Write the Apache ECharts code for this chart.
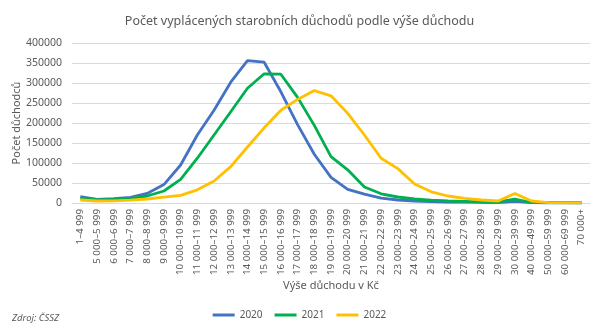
<!DOCTYPE html>
<html><head><meta charset="utf-8">
<script src="https://cdn.jsdelivr.net/npm/echarts@6/dist/echarts.min.js"></script>
<style>html,body{margin:0;padding:0;background:#fff;}#c{width:599px;height:329px;}</style>
</head><body><div id="c"></div>
<script>
const categories = ["1–4 999","5 000–5 999","6 000–6 999","7 000–7 999","8 000–8 999","9 000–9 999","10 000–10 999","11 000–11 999","12 000–12 999","13 000–13 999","14 000–14 999","15 000–15 999","16 000–16 999","17 000–17 999","18 000–18 999","19 000–19 999","20 000–20 999","21 000–21 999","22 000–22 999","23 000–23 999","24 000–24 999","25 000–25 999","26 000–26 999","27 000–27 999","28 000–28 999","29 000–29 999","30 000–39 999","40 000–49 999","50 000–59 999","60 000–69 999","70 000+"];
const s2020 = [16000,9000,11000,14000,24000,46000,95000,170000,232000,302000,356000,352000,278000,196000,122000,64000,34000,22000,12000,7500,5000,3500,2500,2000,1500,1200,4000,800,300,100,50];
const s2021 = [12500,7500,9000,11500,17500,30000,59000,112000,170000,228000,287000,323000,322000,264000,194000,116000,83000,40000,23000,15000,10000,7000,5000,4000,3000,2500,9500,1200,400,150,80];
const s2022 = [7500,5000,5500,7000,10000,14500,19000,33000,55000,91000,140000,188000,232000,259000,281000,268000,224000,170000,112000,86000,47500,28000,17500,11500,7500,5000,24000,5000,1000,300,200];
const yTicks = [0,50000,100000,150000,200000,250000,300000,350000,400000];
const seriesNames = ["2020","2021","2022"];
const colors = ["#4472C4","#00B050","#FFC000"];
const font = "Noto Sans";
const chart = echarts.init(document.getElementById('c'));
chart.setOption({
  animation:false,
  textStyle:{fontFamily:font},
  title:{text:"Počet vyplácených starobních důchodů podle výše důchodu",left:'center',top:10,textStyle:{fontSize:12.5,fontWeight:'normal',color:'#595959',fontFamily:font}},
  grid:{left:72,right:9,top:43,bottom:126},
  legend:{bottom:4,left:'center',icon:'rect',itemWidth:22,itemHeight:3,itemGap:12,textStyle:{fontSize:10,color:'#595959'},data:seriesNames},
  graphic:[{type:'text',left:12,top:313,style:{text:"Zdroj: ČSSZ",fontSize:9.5,fontStyle:'italic',fill:'#595959',fontFamily:font}}],
  xAxis:{type:'category',data:categories,boundaryGap:true,name:"Výše důchodu v Kč",nameLocation:'middle',nameGap:77,nameMoveOverlap:false,nameTextStyle:{fontSize:11,color:'#595959'},
    axisLine:{lineStyle:{color:'#d9d9d9'}},axisTick:{show:false},
    axisLabel:{interval:0,rotate:90,fontSize:9.8,color:'#595959',margin:6}},
  yAxis:{type:'value',min:yTicks[0],max:yTicks[yTicks.length-1],interval:50000,name:"Počet důchodců",nameLocation:'middle',nameGap:50,nameMoveOverlap:false,nameTextStyle:{fontSize:11,color:'#595959'},
    axisLine:{show:false},axisTick:{show:false},splitLine:{lineStyle:{color:'#d9d9d9'}},
    axisLabel:{fontSize:10.5,color:'#595959',margin:10,formatter:v=>String(v)}},
  series:seriesNames.map((n,i)=>({name:n,type:'line',data:[s2020,s2021,s2022][i],symbol:'none',lineStyle:{width:2.8,color:colors[i]},itemStyle:{color:colors[i]}}))
});
</script></body></html>
